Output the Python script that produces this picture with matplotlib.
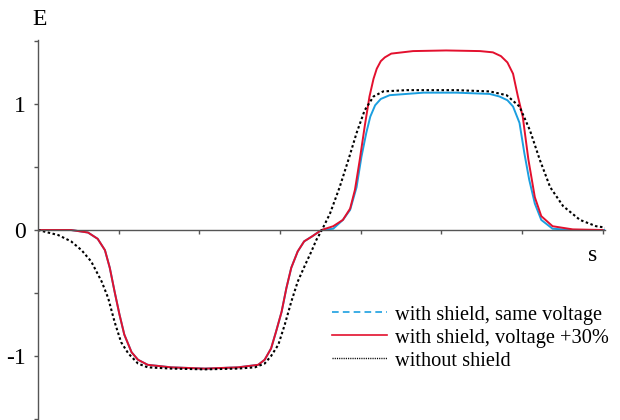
import matplotlib
matplotlib.use("Agg")
import matplotlib.pyplot as plt
from matplotlib.lines import Line2D

# s positions (tick units) and E values
red_s = [0.0, 0.41, 0.62, 0.74, 0.83, 0.89, 0.95, 1.01, 1.07, 1.16, 1.24, 1.36, 1.65, 2.07,
         2.48, 2.73, 2.81, 2.89, 2.95, 3.02, 3.08, 3.14, 3.22, 3.30, 3.40, 3.515,
         3.66, 3.78, 3.87, 3.93, 3.99, 4.05, 4.11, 4.16, 4.20, 4.25, 4.30, 4.38, 4.65, 5.06, 5.48,
         5.64, 5.74, 5.82, 5.89, 5.95, 6.01, 6.08, 6.16, 6.24, 6.38, 6.63, 7.0]
red_e = [0.0, 0.0, -0.02, -0.07, -0.16, -0.30, -0.49, -0.67, -0.83, -0.97, -1.03, -1.07, -1.09, -1.10,
         -1.09, -1.07, -1.03, -0.94, -0.81, -0.65, -0.46, -0.30, -0.17, -0.09, -0.05, 0.0,
         0.03, 0.08, 0.17, 0.32, 0.56, 0.82, 1.06, 1.20, 1.28, 1.34, 1.37, 1.40, 1.42, 1.425, 1.42,
         1.41, 1.38, 1.33, 1.24, 1.06, 0.90, 0.56, 0.26, 0.11, 0.03, 0.005, 0.0]

blue_s = red_s[:26] + [3.66, 3.78, 3.87, 3.95, 4.01, 4.07, 4.12, 4.18, 4.25, 4.36, 4.78, 5.19, 5.60,
                       5.72, 5.82, 5.89, 5.97, 6.03, 6.09, 6.16, 6.24, 6.38, 6.63, 7.05]
blue_e = red_e[:26] + [0.01, 0.08, 0.16, 0.34, 0.58, 0.77, 0.90, 0.99, 1.04, 1.07, 1.09, 1.09, 1.08,
                       1.06, 1.03, 0.98, 0.85, 0.61, 0.40, 0.21, 0.08, 0.01, 0.0, 0.0]

black_s = [0.0, 0.25, 0.41, 0.54, 0.66, 0.79, 0.87, 0.95, 1.03, 1.12, 1.24, 1.36, 1.65, 2.07,
           2.48, 2.69, 2.81, 2.89, 2.98, 3.06, 3.14, 3.22, 3.31, 3.39, 3.45, 3.52,
           3.62, 3.74, 3.85, 3.95, 4.05, 4.16, 4.28, 4.57, 5.19, 5.60, 5.81, 5.97, 6.10,
           6.22, 6.35, 6.51, 6.72, 6.92, 7.07]
black_e = [0.0, -0.04, -0.09, -0.16, -0.25, -0.41, -0.54, -0.73, -0.89, -0.98, -1.06, -1.09, -1.10, -1.106,
           -1.10, -1.09, -1.06, -1.0, -0.91, -0.75, -0.57, -0.41, -0.28, -0.17, -0.08, 0.0,
           0.13, 0.34, 0.56, 0.77, 0.95, 1.06, 1.10, 1.11, 1.11, 1.10, 1.07, 0.98, 0.79,
           0.56, 0.34, 0.19, 0.08, 0.03, 0.016]

labels = ["with shield, same voltage", "with shield, voltage +30%", "without shield"]
y_ticks = [-1.5, -1, -0.5, 0, 0.5, 1, 1.5]
y_labels = ["", "-1", "", "0", "", "1", ""]

plt.rcParams["font.family"] = ["Liberation Serif", "DejaVu Serif"]

fig = plt.figure(figsize=(6.2, 4.2), dpi=100)
ax = fig.add_axes([38 / 620, 1 / 420, (605 - 38) / 620, (419 - 40) / 420])

blue = "#1b9fe0"
red = "#e3102e"

ax.plot(blue_s, blue_e, color=blue, lw=1.4, label=labels[0])
ax.plot(red_s, red_e, color=red, lw=1.4, label=labels[1])
ax.plot(black_s, black_e, color="black", lw=1.5, ls=(0, (1.2, 1.2)), label=labels[2])

ax.set_xlim(0, 7.03)
ax.set_ylim(-1.5, 1.508)

for side in ("top", "right"):
    ax.spines[side].set_visible(False)
ax.spines["bottom"].set_position(("data", 0))
for side in ("left", "bottom"):
    ax.spines[side].set_color("#555555")
    ax.spines[side].set_linewidth(1.0)

ax.set_xticks(range(1, 8))
ax.set_xticklabels([])
ax.set_yticks(y_ticks)
ax.set_yticklabels(y_labels, fontsize=17)
ax.tick_params(axis="both", direction="out", length=3, width=1, color="#555555", pad=6)

ax.text(0.02, 1.67, "E", fontsize=17, ha="center", va="center", clip_on=False)
ax.text(6.88, -0.2, "s", fontsize=17, ha="center", va="center")

# legend keys: the blue one is dashed in the key only
handles = [Line2D([], [], color=blue, lw=1.2, ls=(0, (4, 2.5))),
           Line2D([], [], color=red, lw=1.2),
           Line2D([], [], color="black", lw=1.0, ls=(0, (0.8, 0.8)))]
ax.legend(handles, labels, loc="upper left", bbox_to_anchor=(318 / 620, 1 - 291 / 420),
          bbox_transform=fig.transFigure, frameon=False, fontsize=14.7,
          handlelength=2.7, handletextpad=0.38, labelspacing=0.18, borderpad=0.2)

fig.savefig("out.png", dpi=100)
